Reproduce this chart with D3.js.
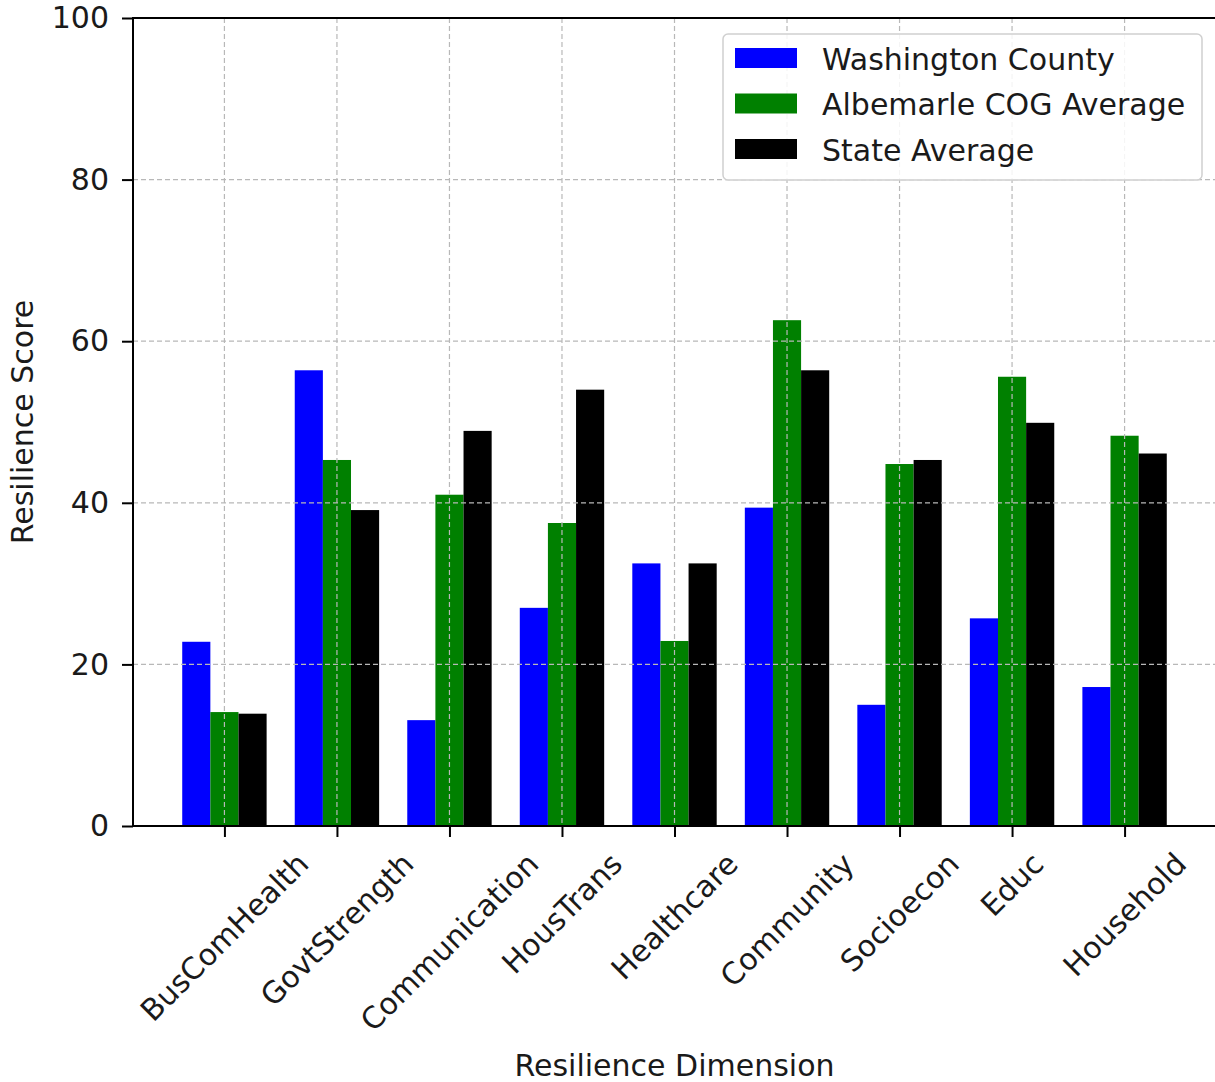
<!DOCTYPE html>
<html>
<head>
<meta charset="utf-8">
<script src="https://cdn.jsdelivr.net/npm/d3@7"></script>
<style>
  body { margin: 0; background: #fff; }
  svg { display: block; font-family: "DejaVu Sans", sans-serif; }
</style>
</head>
<body>
<svg id="chart" width="1215" height="1082"></svg>
<script>
// data
const categories = ['BusComHealth', 'GovtStrength', 'Communication', 'HousTrans', 'Healthcare',
                    'Community', 'Socioecon', 'Educ', 'Household'];
const washington = [22.8, 56.4, 13.1, 27.0, 32.5, 39.4, 15.0, 25.7, 17.2];
const albemarle  = [14.1, 45.3, 41.0, 37.5, 22.9, 62.6, 44.8, 55.6, 48.3];
const stateAvg   = [13.9, 39.1, 48.9, 54.0, 32.5, 56.4, 45.3, 49.9, 46.1];
const seriesNames = ['Washington County', 'Albemarle COG Average', 'State Average'];
const seriesColors = ['#0000ff', '#008000', '#000000'];
const yTicks = [0, 20, 40, 60, 80, 100];

const series = [washington, albemarle, stateAvg];
const barW = 0.25;

const svg = d3.select('#chart');
const plotL = 133, plotR = 1216, plotT = 18, plotB = 826;
const fontSize = 30;
const textColor = '#1a1a1a';

// x in category units, bars at i-0.25, i, i+0.25 ; 5% margins like matplotlib
const x = d3.scaleLinear().domain([-0.8125, categories.length - 1 + 0.8125]).range([plotL, plotR]);
const y = d3.scaleLinear().domain([0, 100]).range([plotB, plotT]);

// bars
series.forEach((vals, s) => {
    svg.append('g').selectAll('rect')
        .data(vals)
        .enter().append('rect')
        .attr('x', (d, i) => x(i + (s - 1) * barW - barW / 2))
        .attr('width', x(barW) - x(0))
        .attr('y', d => y(d))
        .attr('height', d => y(0) - y(d))
        .attr('fill', seriesColors[s]);
});

// grid (drawn over the bars)
const grid = svg.append('g').attr('stroke', '#b8b8b8').attr('stroke-width', 1.2)
    .attr('stroke-dasharray', '5,3');
grid.selectAll('.gx').data(categories).enter().append('line')
    .attr('x1', (d, i) => x(i)).attr('x2', (d, i) => x(i))
    .attr('y1', plotT).attr('y2', plotB);
grid.selectAll('.gy').data(yTicks.slice(1, -1)).enter().append('line')
    .attr('x1', plotL).attr('x2', plotR)
    .attr('y1', d => y(d)).attr('y2', d => y(d));

// y axis
const yAxis = svg.append('g')
    .attr('transform', 'translate(' + plotL + ',0)')
    .call(d3.axisLeft(y).tickValues(yTicks).tickSize(11).tickPadding(13));
yAxis.select('.domain').remove();
yAxis.selectAll('line').attr('stroke-width', 2);
yAxis.selectAll('text').attr('font-size', fontSize).attr('fill', textColor)
    .attr('font-family', '"DejaVu Sans", sans-serif');

// x axis
const xAxis = svg.append('g')
    .attr('transform', 'translate(0,' + plotB + ')')
    .call(d3.axisBottom(x).tickValues(d3.range(categories.length)).tickSize(11).tickFormat(''));
xAxis.select('.domain').remove();
xAxis.selectAll('line').attr('stroke-width', 2);

// rotated labels, bounding box centred on tick, top aligned
const labelTop = plotB + 24;
categories.forEach((c, i) => {
    const t = svg.append('text')
        .attr('font-size', fontSize)
        .attr('fill', textColor)
        .attr('text-anchor', 'middle')
        .attr('dominant-baseline', 'central')
        .text(c);
    const w = t.node().getComputedTextLength();
    const half = (w + fontSize * 0.8) / (2 * Math.SQRT2);
    t.attr('transform', 'translate(' + x(i) + ',' + (labelTop + half) + ') rotate(-45)');
});

// spines
svg.append('rect')
    .attr('x', plotL).attr('y', plotT)
    .attr('width', plotR - plotL).attr('height', plotB - plotT)
    .attr('fill', 'none').attr('stroke', '#000').attr('stroke-width', 2);

// axis labels
svg.append('text')
    .attr('x', (plotL + plotR) / 2).attr('y', 1076)
    .attr('text-anchor', 'middle').attr('font-size', fontSize).attr('fill', textColor)
    .text('Resilience Dimension');
svg.append('text')
    .attr('transform', 'translate(33,' + (plotT + plotB) / 2 + ') rotate(-90)')
    .attr('text-anchor', 'middle').attr('font-size', fontSize).attr('fill', textColor)
    .text('Resilience Score');

// legend
const legend = svg.append('g');
legend.append('rect')
    .attr('x', 723).attr('y', 34).attr('width', 479).attr('height', 146)
    .attr('rx', 5).attr('ry', 5)
    .attr('fill', 'rgba(255,255,255,0.85)').attr('stroke', '#d0d0d0').attr('stroke-width', 1.5);
seriesNames.forEach((name, s) => {
    const cy = 58 + s * 45.5;
    legend.append('rect')
        .attr('x', 735).attr('y', cy - 10).attr('width', 62).attr('height', 20)
        .attr('fill', seriesColors[s]);
    legend.append('text')
        .attr('x', 822).attr('y', cy + 1)
        .attr('dominant-baseline', 'central')
        .attr('font-size', fontSize).attr('fill', textColor)
        .text(name);
});
</script>
</body>
</html>
